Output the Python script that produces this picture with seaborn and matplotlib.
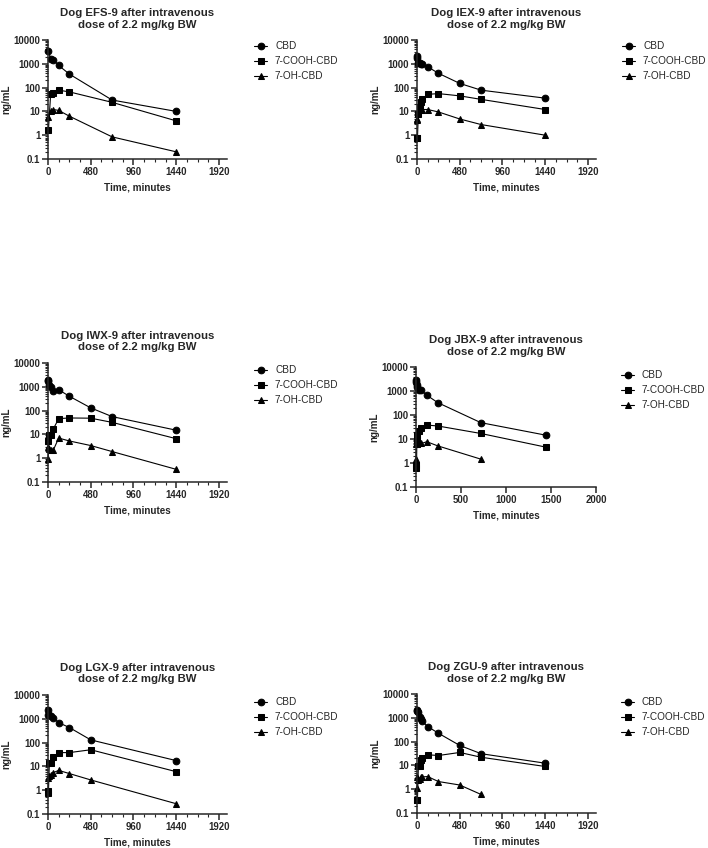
import numpy as np
import pandas as pd
import matplotlib
matplotlib.use("Agg")
import matplotlib.pyplot as plt
import matplotlib.ticker as mticker
import seaborn as sns

# Концентрації (ng/mL) по часу (хв) для кожної собаки
compounds = ["CBD", "7-COOH-CBD", "7-OH-CBD"]

efs_time = [5, 30, 60, 120, 240, 720, 1440]
efs_cbd = [3300, 1650, 1500, 850, 370, 30, 10]
efs_cooh = [1.7, 55, 57, 78, 66, 24, 4]
efs_oh = [6, 10.5, 12, 11, 6.3, 0.85, 0.2]

iex_time = [2, 5, 15, 30, 45, 60, 120, 240, 480, 720, 1440]
iex_cbd = [2100, 1800, 1100, 1050, 1000, 1000, 750, 400, 150, 78, 36]
iex_cooh = [0.8, 0.75, 8, 15, 25, 33, 52, 56, 45, 32, 12]
iex_oh = [4.5, 5, 9, 13, 11, 12, 12, 9.5, 4.8, 2.8, 1.0]

iwx_time = [2, 5, 15, 30, 60, 120, 240, 480, 720, 1440]
iwx_cbd = [2000, 1800, 1200, 1000, 650, 750, 400, 130, 56, 15]
iwx_cooh = [None, 5.5, 9, 9.5, 17, 46, 49, 48, 32, 6.6]
iwx_oh = [0.9, 3, 2.5, 2.2, 2.2, 7, 5.3, 3.4, 1.9, 0.34]

jbx_time = [2, 5, 10, 15, 30, 60, 120, 240, 720, 1440]
jbx_cbd = [2900, 2300, 1800, 1400, 1100, 1050, 670, 330, 48, 14.5]
jbx_cooh = [0.8, 0.6, 9, 15, 22, 30, 38, 35, 17, 4.6]
jbx_oh = [1.5, 6, 6, 6, 6.5, 6.5, 7.7, 5.2, 1.45, None]

lgx_time = [2, 5, 15, 30, 60, 120, 240, 480, 1440]
lgx_cbd = [2300, 1500, 1400, 1250, 1100, 690, 430, 130, 17.5]
lgx_cooh = [0.9, 0.8, 14, 14, 24, 38, 38, 50, 6]
lgx_oh = [0.9, 3.2, 4, 4.5, 5.5, 6.8, 5, 2.7, 0.27]

zgu_time = [2, 5, 15, 30, 45, 60, 120, 240, 480, 720, 1440]
zgu_cbd = [2100, 1900, 1700, 1100, 900, 700, 430, 225, 69, 31, 12.4]
zgu_cooh = [0.34, 0.35, 9, 9.5, 17, 20, 28, 26, 35, 22, 9]
zgu_oh = [1.1, 3.2, 2.5, 2.7, 3.2, 3.3, 3.4, 2.1, 1.5, 0.6, None]

dogs = ["EFS-9", "IEX-9", "IWX-9", "JBX-9", "LGX-9", "ZGU-9"]
panel_data = [
    (efs_time, efs_cbd, efs_cooh, efs_oh),
    (iex_time, iex_cbd, iex_cooh, iex_oh),
    (iwx_time, iwx_cbd, iwx_cooh, iwx_oh),
    (jbx_time, jbx_cbd, jbx_cooh, jbx_oh),
    (lgx_time, lgx_cbd, lgx_cooh, lgx_oh),
    (zgu_time, zgu_cbd, zgu_cooh, zgu_oh),
]

sns.set_style("ticks")
plt.rcParams["font.family"] = ["Liberation Sans", "DejaVu Sans"]

W, H = 708, 848
fig = plt.figure(figsize=(W / 100, H / 100), dpi=100)

# позиції осей у пікселях: left, top, right, bottom
boxes = [
    (48, 40, 227, 159),
    (417, 40, 596, 159),
    (48, 363, 227, 482),
    (416, 367, 596, 487),
    (48, 695, 227, 814),
    (417, 694, 596, 813),
]
legend_pos = [(254, 41), (622, 41), (254, 365), (621, 370), (254, 697), (621, 697)]
markers = {"CBD": "o", "7-COOH-CBD": "s", "7-OH-CBD": "^"}

for i, (dog, (t, cbd, cooh, oh)) in enumerate(zip(dogs, panel_data)):
    l, tp, r, b = boxes[i]
    ax = fig.add_axes([l / W, 1 - b / H, (r - l) / W, (b - tp) / H])

    rows = []
    for name, vals in zip(compounds, [cbd, cooh, oh]):
        for x, v in zip(t, vals):
            if v is not None:
                rows.append([x, v, name])
    df = pd.DataFrame(rows, columns=["time", "conc", "compound"])

    sns.lineplot(data=df, x="time", y="conc", style="compound", style_order=compounds,
                 markers=markers, dashes=False, color="black", markersize=4.8,
                 markeredgecolor="black", linewidth=0.8, estimator=None, sort=False,
                 ax=ax, clip_on=False)

    ax.set_yscale("log")
    ax.set_ylim(0.1, 10000)
    ax.set_yticks([0.1, 1, 10, 100, 1000, 10000])
    ax.set_yticklabels(["0.1", "1", "10", "100", "1000", "10000"])
    ax.yaxis.set_minor_locator(mticker.LogLocator(base=10, subs=np.arange(2, 10), numticks=20))
    ax.yaxis.set_minor_formatter(mticker.NullFormatter())

    if dog == "JBX-9":
        ax.set_xlim(0, 2000)
        ax.set_xticks([0, 500, 1000, 1500, 2000])
    else:
        ax.set_xlim(0, 2010)
        ax.set_xticks([0, 480, 960, 1440, 1920])
        ax.xaxis.set_minor_locator(mticker.MultipleLocator(120))

    for side in ["top", "right"]:
        ax.spines[side].set_visible(False)
    for side in ["left", "bottom"]:
        ax.spines[side].set_linewidth(1.1)
    ax.tick_params(which="major", length=4, width=1.1, pad=1.5, labelsize=6.9)
    ax.tick_params(which="minor", length=2.2, width=0.8)
    for lab in ax.get_xticklabels() + ax.get_yticklabels():
        lab.set_fontweight("bold")

    ax.set_title(f"Dog {dog} after intravenous\ndose of 2.2 mg/kg BW",
                 fontsize=8.2, fontweight="bold", pad=9, linespacing=1.2)
    ax.set_xlabel("Time, minutes", fontsize=7.1, fontweight="bold", labelpad=4)
    ax.set_ylabel("ng/mL", fontsize=7.1, fontweight="bold", labelpad=1.5)

    handles, labels = ax.get_legend_handles_labels()
    ax.legend(handles, labels, loc="upper left",
              bbox_to_anchor=(legend_pos[i][0] / W, 1 - legend_pos[i][1] / H),
              bbox_transform=fig.transFigure, frameon=False, fontsize=7.2,
              handlelength=1.3, handletextpad=0.8, labelspacing=0.5,
              borderpad=0, borderaxespad=0)

fig.savefig("out.png", dpi=100)
